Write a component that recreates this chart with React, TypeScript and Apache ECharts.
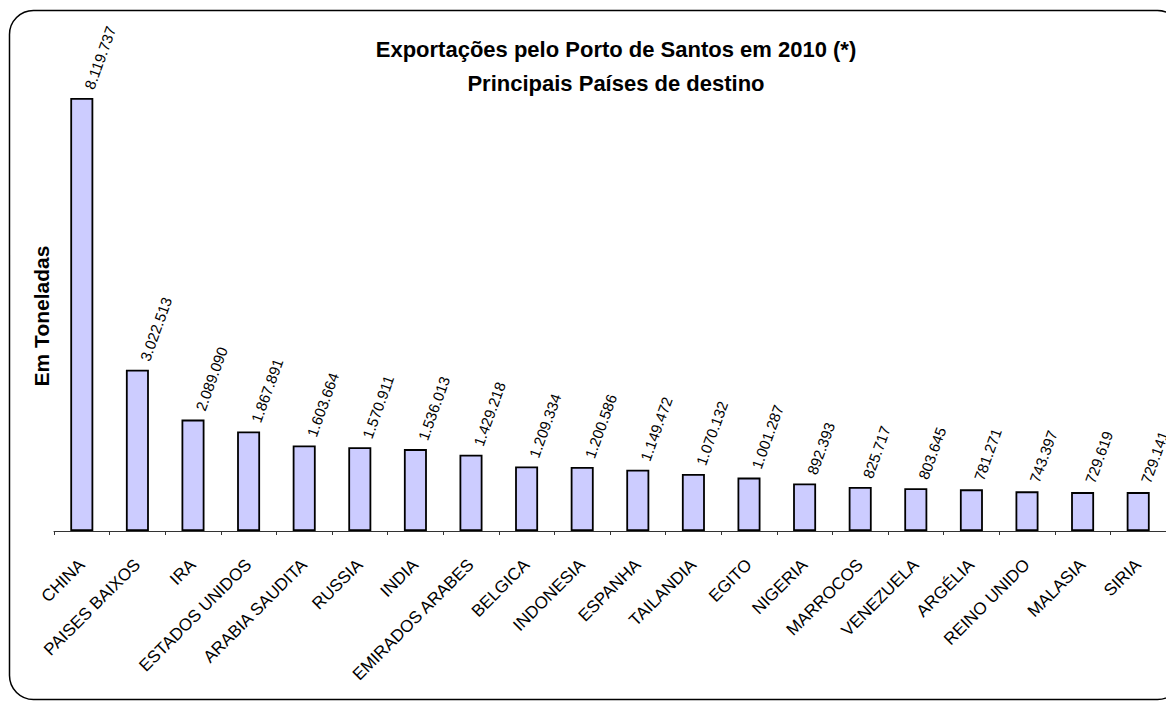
import React, { useEffect, useRef } from "react";
import * as echarts from "echarts";

const categories = [
  "CHINA", "PAISES BAIXOS", "IRA", "ESTADOS UNIDOS", "ARABIA SAUDITA", "RUSSIA", "INDIA",
  "EMIRADOS ARABES", "BELGICA", "INDONESIA", "ESPANHA", "TAILANDIA", "EGITO", "NIGERIA",
  "MARROCOS", "VENEZUELA", "ARGÉLIA", "REINO UNIDO", "MALASIA", "SIRIA",
];
const values = [
  8119737, 3022513, 2089090, 1867891, 1603664, 1570911, 1536013, 1429218, 1209334, 1200586,
  1149472, 1070132, 1001287, 892393, 825717, 803645, 781271, 743397, 729619, 729141,
];
const titleLines = ["Exportações pelo Porto de Santos em 2010 (*)", "Principais Países de destino"];
const yName = "Em Toneladas";

const FONT = "Liberation Sans, Arial, sans-serif";

function fmt(v: number): string {
  return String(v).replace(/\B(?=(\d{3})+(?!\d))/g, ".");
}

export default function App() {
  const ref = useRef<HTMLDivElement>(null);
  useEffect(() => {
    if (!ref.current) return;
    const chart = echarts.init(ref.current, null, { renderer: "svg" });
    chart.setOption({
      animation: false,
      backgroundColor: "#fff",
      title: {
        text: titleLines.join("\n"),
        left: 611,
        top: 27,
        textAlign: "center",
        textStyle: { fontFamily: FONT, fontSize: 22, fontWeight: "bold", color: "#000", lineHeight: 34 },
      },
      graphic: [
        {
          type: "rect",
          shape: { x: 9.5, y: 10.5, width: 1172, height: 689, r: 24 },
          style: { fill: "none", stroke: "#000", lineWidth: 1.5 },
          silent: true,
          z: 100,
        },
        {
          type: "text",
          x: 41,
          y: 316,
          rotation: Math.PI / 2,
          style: {
            text: yName,
            fontFamily: FONT,
            fontSize: 21,
            fontWeight: "bold",
            fill: "#000",
            align: "center",
            verticalAlign: "middle",
          },
        },
      ],
      grid: { left: 54, top: 51, width: 1118, height: 480, containLabel: false },
      xAxis: {
        type: "category",
        data: categories,
        boundaryGap: true,
        axisLine: { lineStyle: { color: "#333", width: 1 } },
        axisTick: { show: true, length: 4, lineStyle: { color: "#333" }, alignWithLabel: false },
        axisLabel: { interval: 0, rotate: 45, margin: 31, color: "#000", fontFamily: FONT, fontSize: 17 },
      },
      yAxis: {
        type: "value",
        min: 0,
        max: 9000000,
        show: false,
        splitLine: { show: false },
      },
      series: [
        {
          type: "bar",
          data: values,
          barWidth: 23,
          itemStyle: { color: "#ccccff", borderColor: "#000", borderWidth: 1.8 },
          label: {
            show: true,
            position: "top",
            distance: 12,
            rotate: 70,
            align: "left",
            verticalAlign: "top",
            color: "#000",
            fontFamily: FONT,
            fontSize: 15,
            formatter: (p: any) => fmt(p.value),
          },
        },
      ],
    });
    return () => chart.dispose();
  }, []);
  return (
    <div
      ref={ref}
      style={{ position: "fixed", left: 0, top: 0, width: 1166, height: 702, overflow: "hidden", background: "#fff" }}
    />
  );
}
